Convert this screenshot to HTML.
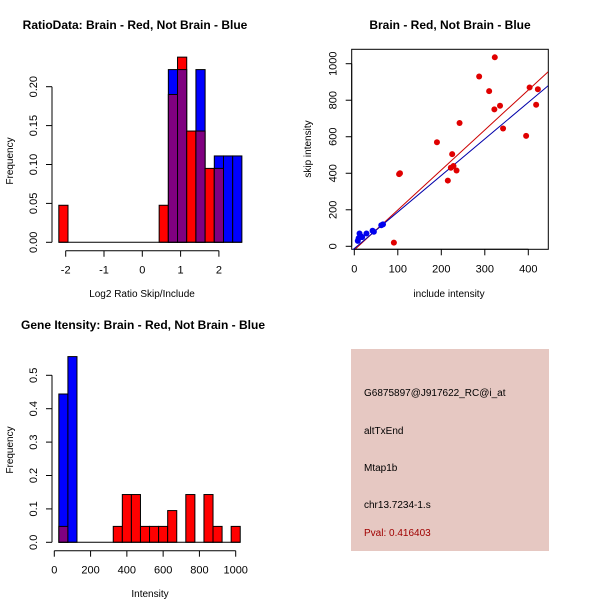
<!DOCTYPE html>
<html><head><meta charset="utf-8"><style>
body{margin:0;background:#fff}
svg{display:block;font-family:"Liberation Sans",sans-serif}
</style></head><body>
<svg id="c" width="600" height="600" viewBox="0 0 600 600">
<rect width="600" height="600" fill="#fff"/>
<text x="135" y="29" text-anchor="middle" font-size="12" font-weight="bold">RatioData: Brain - Red, Not Brain - Blue</text>
<text x="450" y="29" text-anchor="middle" font-size="12" font-weight="bold">Brain - Red, Not Brain - Blue</text>
<text x="143" y="329" text-anchor="middle" font-size="12" font-weight="bold">Gene Itensity: Brain - Red, Not Brain - Blue</text>
<text x="142" y="297" text-anchor="middle" font-size="10">Log2 Ratio Skip/Include</text>
<text transform="translate(13,161) rotate(-90)" text-anchor="middle" font-size="10">Frequency</text>
<text x="449" y="297" text-anchor="middle" font-size="10">include intensity</text>
<text transform="translate(311,149) rotate(-90)" text-anchor="middle" font-size="10">skip intensity</text>
<text x="150" y="597" text-anchor="middle" font-size="10">Intensity</text>
<text transform="translate(13,450) rotate(-90)" text-anchor="middle" font-size="10">Frequency</text>
<g>
<rect x="351" y="349" width="198" height="202" fill="#e6c8c2"/>
<text x="364" y="396" font-size="10">G6875897@J917622_RC@i_at</text>
<text x="364" y="434" font-size="10">altTxEnd</text>
<text x="364" y="471" font-size="10">Mtap1b</text>
<text x="364" y="508" font-size="10">chr13.7234-1.s</text>
<text x="364" y="536" font-size="10" fill="#a00000">Pval: 0.416403</text>
</g>
</svg>
<script>
// ratio histogram data
const ratioBins=[-2.18,-1.94,0.44,0.68,0.92,1.16,1.40,1.64,1.88,2.12,2.36];
const ratioRed=[0.0476,0,0.0476,0.190,0.238,0.143,0.143,0.095,0.095,0,0];
const ratioBlue=[0,0,0,0.222,0.222,0,0.222,0,0.111,0.111,0.111];
const ratioBinW=0.24;
const ratioXTicks=[-2,-1,0,1,2];
const ratioYTicks=[0,0.05,0.10,0.15,0.20];
// scatter data
const redInclude=[91,103,105,190,215,222,225,228,235,242,287,310,322,323,335,342,395,403,418,422];
const redSkip=[20,395,400,570,360,430,505,440,415,675,930,850,750,1035,770,645,605,870,775,860];
const blueInclude=[8,10,12,15,18,28,42,45,62,66];
const blueSkip=[30,45,70,55,50,70,85,80,115,120];
const redFit=[-20,2.19];
const blueFit=[-12,2.0];
const scXTicks=[0,100,200,300,400];
const scYTicks=[0,200,400,600,800,1000];
// intensity histogram data
const intBins=[25,75,125,175,225,275,325,375,425,475,525,575,625,675,725,775,825,875,925,975];
const intRed=[0.0476,0,0,0,0,0,0.0476,0.143,0.143,0.0476,0.0476,0.0476,0.095,0,0.143,0,0.143,0.0476,0,0.0476];
const intBlue=[0.444,0.556,0,0,0,0,0,0,0,0,0,0,0,0,0,0,0,0,0,0];
const intBinW=50;
const intXTicks=[0,200,400,600,800,1000];
const intYTicks=[0,0.1,0.2,0.3,0.4,0.5];

const svg=document.getElementById('c');const NS='http://www.w3.org/2000/svg';
function mk(t,a,p){const e=document.createElementNS(NS,t);for(const k in a)e.setAttribute(k,a[k]);(p||svg).appendChild(e);return e;}
function fmt(v,d){return v.toFixed(d);}

function hist(bins,red,blue,w,sx,sy,name){
  const g=mk('g',{});
  
  
  for(let i=0;i<bins.length;i++){
    const x0=sx(bins[i]),x1=sx(bins[i]+w);
    const hi=Math.max(red[i],blue[i]),lo=Math.min(red[i],blue[i]);
    if(hi>0){
      const r=mk('rect',{x:x0,y:sy(hi),width:x1-x0,height:sy(0)-sy(hi),fill:red[i]>=blue[i]?'#ff0000':'#0000ff',stroke:'#000','stroke-width':1},g);
      
      
    }
    if(lo>0){
      const r=mk('rect',{x:x0,y:sy(lo),width:x1-x0,height:sy(0)-sy(lo),fill:'#800080',stroke:'#000','stroke-width':1},g);
      
      
    }
  }
  mk('line',{x1:sx(bins[0]),x2:sx(bins[bins.length-1]+w),y1:sy(0),y2:sy(0),stroke:'#000'},g);
}
function xaxis(ticks,sx,y,d,name){
  const g=mk('g',{});
  
  
  mk('line',{x1:sx(ticks[0]),x2:sx(ticks[ticks.length-1]),y1:y,y2:y,stroke:'#000'},g);
  ticks.forEach(t=>{mk('line',{x1:sx(t),x2:sx(t),y1:y,y2:y+6,stroke:'#000'},g);
    const tx=mk('text',{x:sx(t),y:y+23,'text-anchor':'middle','font-size':11},g);tx.textContent=fmt(t,d);});
}
function yaxis(ticks,sy,x,d,name){
  const g=mk('g',{});
  
  
  mk('line',{x1:x,x2:x,y1:sy(ticks[0]),y2:sy(ticks[ticks.length-1]),stroke:'#000'},g);
  ticks.forEach(t=>{mk('line',{x1:x,x2:x-6,y1:sy(t),y2:sy(t),stroke:'#000'},g);
    const tx=mk('text',{transform:`translate(${x-15},${sy(t)}) rotate(-90)`,'text-anchor':'middle','font-size':11},g);tx.textContent=fmt(t,d);});
}
// ratio
{const sx=v=>65.7+(v+2)*38.3, sy=v=>242.3-v*778;
 hist(ratioBins,ratioRed,ratioBlue,ratioBinW,sx,sy,'ratio');
 xaxis(ratioXTicks,sx,250.7,0,'ratio-x-axis');yaxis(ratioYTicks,sy,52,2,'ratio-y-axis');}
// scatter
{const sx=v=>354.3+v*0.435, sy=v=>246.3-v*0.1826;
 mk('clipPath',{id:'clp'});mk('rect',{x:352,y:49.5,width:196,height:200},svg.lastChild);
 mk('rect',{x:351.7,y:49.3,width:196.6,height:200,fill:'none',stroke:'#000'});
 const g=mk('g',{'clip-path':'url(#clp)'});
 
 
 const xa=-10,xb=450;
 const l1=mk('line',{x1:sx(xa),y1:sy(redFit[0]+redFit[1]*xa),x2:sx(xb),y2:sy(redFit[0]+redFit[1]*xb),stroke:'#cc0000'},g);
 
 const l2=mk('line',{x1:sx(xa),y1:sy(blueFit[0]+blueFit[1]*xa),x2:sx(xb),y2:sy(blueFit[0]+blueFit[1]*xb),stroke:'#0000aa'},g);
 
 redInclude.forEach((v,i)=>{const c=mk('circle',{cx:sx(v),cy:sy(redSkip[i]),r:3,fill:'#e00000'},g);
   });
 blueInclude.forEach((v,i)=>{const c=mk('circle',{cx:sx(v),cy:sy(blueSkip[i]),r:3,fill:'#0000ee'},g);
   });
 xaxis(scXTicks,sx,249.3,0,'scatter-x-axis');yaxis(scYTicks,sy,351.7,0,'scatter-y-axis');}
// intensity
{const sx=v=>54.3+v*0.1814, sy=v=>542.3-v*334;
 hist(intBins,intRed,intBlue,intBinW,sx,sy,'intensity');
 xaxis(intXTicks,sx,550.7,0,'intensity-x-axis');yaxis(intYTicks,sy,52,1,'intensity-y-axis');}
</script>
</body></html>
